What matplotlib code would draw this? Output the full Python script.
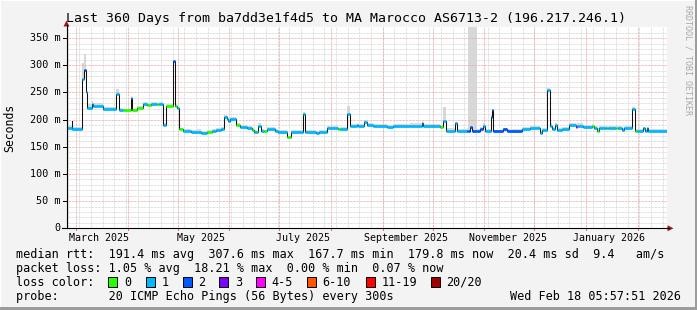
import datetime as dt
import numpy as np
import matplotlib
matplotlib.use("Agg")
import matplotlib.pyplot as plt
from matplotlib.patches import Rectangle, Polygon
from matplotlib.lines import Line2D

W, H = 697, 310

# median rtt as steps: start day (days since t0), ms, loss bucket, smoke above median (ms)
seg_day = [0.0, 3.1, 3.5, 9.1, 9.5, 10.3, 11.6, 12.2, 15.1, 16.1, 22.1, 29.7, 31.7, 33.8,
           38.5, 39.5, 42.4, 45.7, 48.5, 50.5, 54.0, 55.5, 58.1, 59.9, 63.6, 65.1, 66.5,
           67.7, 70.0, 74.5, 78.5, 80.5, 84.5, 87.5, 89.5, 92.5, 94.6, 96.0, 96.8, 97.8,
           101.8, 104.0, 108.0, 111.0, 112.5, 114.0, 115.0, 116.8, 118.5, 120.0, 125.0,
           127.0, 132.0, 134.4, 141.7, 143.0, 149.5, 151.5, 156.5, 163.0, 164.0, 168.5,
           170.0, 174.0, 175.0, 178.5, 180.0, 184.0, 192.0, 196.0, 206.0, 213.0, 214.0,
           224.0, 226.0, 227.5, 233.0, 234.3, 240.2, 240.8, 242.1, 243.1, 246.5, 248.2,
           249.8, 251.2, 254.7, 255.4, 256.1, 262.1, 264.1, 273.1, 278.0, 284.0, 285.0,
           288.5, 290.0, 291.2, 293.1, 294.0, 297.0, 301.6, 305.4, 306.3, 310.0, 315.0,
           316.3, 318.0, 319.3, 323.0, 324.0, 325.0, 329.6, 330.6, 333.2, 334.3, 339.0,
           341.2, 342.5, 346.0, 346.8, 348.0, 348.8]
seg_ms = [185, 198, 182.5, 198, 274, 291, 251, 222, 228.5, 225, 219, 248, 217.5, 217.5,
          239, 217, 222, 228.5, 227, 229, 228, 229, 190, 225, 307.6, 225, 220.6,
          182.5, 179, 177, 178, 176, 177, 179, 181, 183, 205, 202, 197.5, 201,
          190, 187, 184, 181, 178, 177, 189, 178.6, 178.6, 182, 179,
          176.4, 167.7, 177.5, 211, 177, 175.5, 177, 184, 182.5, 182.5, 211,
          188, 190, 188, 196, 190, 188, 186, 188, 189, 194, 188.5,
          187, 198, 180, 193, 179.4, 180, 180, 187, 179, 179, 182,
          189, 179, 205, 217.5, 178.5, 182, 179, 182, 185, 175.8, 181,
          255.5, 189, 182, 190, 181, 183, 189.8, 187, 189, 187, 188,
          185, 180, 184, 185, 185, 185, 185, 185, 181, 184, 220.5,
          179.4, 179.4, 184, 179.4, 184, 179.8]
seg_loss = [1, 1, 1, 2, 1, 2, 1, 1, 1, 1, 1, 1, 1, 0,
            1, 0, 0, 1, 0, 1, 0, 1, 1, 0, 2, 0, 1,
            0, 1, 1, 1, 1, 0, 1, 1, 1, 1, 1, 1, 1,
            0, 1, 1, 0, 1, 0, 1, 1, 0, 1, 1,
            1, 0, 1, 1, 1, 1, 1, 1, 0, 1, 1,
            1, 1, 1, 1, 1, 1, 1, 1, 1, 1, 1,
            0, 1, 1, 1, 1, 2, 2, 2, 2, 2, 2,
            1, 1, 2, 2, 2, 2, 2, 1, 1, 1, 1,
            1, 1, 1, 1, 1, 1, 1, 4, 1, 1, 0,
            1, 0, 1, 1, 0, 1, 0, 1, 1, 1, 1,
            0, 1, 1, 1, 1, 1]
seg_smoke = [4, 3, 4, 3, 30, 30, 8, 6, 6, 5, 4, 9, 4, 3,
             5, 3, 4, 4, 4, 4, 3, 4, 3, 3, 2, 3, 3,
             3, 4, 4, 4, 4, 4, 4, 3, 4, 4, 4, 4, 4,
             4, 4, 4, 3, 3, 3, 4, 4, 3, 4, 4,
             4, 3, 4, 3, 4, 4, 4, 4, 3, 4, 15,
             4, 4, 4, 4, 4, 4, 4, 4, 4, 3, 4,
             3, 26, 4, 3, 3, 4, 999, 999, 999, 4, 4,
             5, 4, 3, 3, 3, 3, 3, 4, 4, 3, 4,
             3, 4, 4, 4, 4, 4, 4, 4, 4, 4, 4,
             4, 4, 4, 4, 3, 4, 3, 4, 4, 4, 3,
             3, 3, 3, 3, 3, 3]
end_day = 360

loss_labels = ["0", "1", "2", "3", "4-5", "6-10", "11-19", "20/20"]
loss_colors = ["#26ff00", "#00b8ff", "#0059ff", "#7e00ff", "#ff00ff", "#ff5500", "#ff0000", "#a10000"]

yticks = [0, 50, 100, 150, 200, 250, 300, 350]
ytick_labels = ["0", "50 m", "100 m", "150 m", "200 m", "250 m", "300 m", "350 m"]

title = "Last 360 Days from ba7dd3e1f4d5 to MA Marocco AS6713-2 (196.217.246.1)"
stats_rtt = "median rtt:  191.4 ms avg  307.6 ms max  167.7 ms min  179.8 ms now  20.4 ms sd  9.4   am/s"
stats_loss = "packet loss: 1.05 % avg  18.21 % max  0.00 % min  0.07 % now"
probe = "probe:       20 ICMP Echo Pings (56 Bytes) every 300s"
stamp = "Wed Feb 18 05:57:51 2026"
t0 = dt.datetime(2025, 2, 23, 5, 57, 51)

MONO = "DejaVu Sans Mono"


def fx(x):
    return x / W


def fy(y):
    return 1 - y / H


def days(d):
    return (d - t0).total_seconds() / 86400.0


fig = plt.figure(figsize=(W / 100, H / 100), dpi=100, facecolor="#f3f3f3")

# 3d frame
fig.add_artist(Rectangle((0, fy(1)), 1, 1, transform=fig.transFigure, color="#ffffff", lw=0))
fig.add_artist(Rectangle((0, 0), fx(1), 1, transform=fig.transFigure, color="#ffffff", lw=0))
fig.add_artist(Rectangle((fx(694.5), 0), 1, 1, transform=fig.transFigure, color="#9c9c9c", lw=0))
fig.add_artist(Rectangle((0, 0), 1, fy(307), transform=fig.transFigure, color="#9c9c9c", lw=0))

ax = fig.add_axes([fx(66.5), fy(228.3), 600 / W, 201 / H])
ax.set_xlim(0, 360)
ax.set_ylim(0, 370)
ax.set_facecolor("white")
for s in ax.spines.values():
    s.set_visible(False)
ax.set_xticks([])
ax.set_yticks([])

edges = np.array(seg_day + [end_day])
med = np.array(seg_ms)
smoke = med + np.array(seg_smoke)

# smoke
ax.stairs(smoke, edges, baseline=med, fill=True, color="#d8d8d8", lw=0, zorder=2)

# grid
dot = (0, (0.72, 0.72))
for v in range(10, 370, 10):
    c = "#eaa4a4" if v % 50 == 0 else "#d4d4d4"
    ax.axhline(v, color=c, lw=0.72, linestyle=dot, zorder=2.5)
monday = t0.replace(hour=0, minute=0, second=0) + dt.timedelta(days=1)
d = monday
while days(d) < 360:
    ax.axvline(days(d), color="#d4d4d4", lw=0.72, linestyle=dot, zorder=2.5)
    d += dt.timedelta(days=7)
months = []
y_, m_ = 2025, 3
while True:
    d = dt.datetime(y_, m_, 1)
    if days(d) > 360:
        break
    months.append(d)
    m_ += 1
    if m_ > 12:
        m_, y_ = 1, y_ + 1
for d in months:
    ax.axvline(days(d), color="#eaa4a4", lw=0.72, linestyle=dot, zorder=2.6)

# median line and loss colour bands
ax.stairs(med, edges, baseline=None, color="#101010", lw=0.75, zorder=3)
cols = [loss_colors[i] for i in seg_loss]
ax.hlines(med, edges[:-1], edges[1:], colors=cols, lw=2.0, zorder=4, capstyle="butt")

# x labels, every second month, centred two weeks in
for d in months:
    if d.month % 2 == 1:
        ax.text(days(d) + 14, -17, d.strftime("%B %Y"), ha="center", va="center",
                fontsize=7.2, family=MONO, color="#000000", clip_on=False)
    ax.plot([days(d)] * 2, [0, -3.5], color="#e07070", lw=0.72, clip_on=False, zorder=5)

# y labels
for v, lab in zip(yticks, ytick_labels):
    y = v * 201 / 370
    fig.text(fx(60.5), fy(228.3 - y), lab, ha="right", va="center", fontsize=7.3, family=MONO)
    fig.add_artist(Line2D([fx(63), fx(66.5)], [fy(228.3 - y)] * 2, color="#000000", lw=0.72))

# axes with arrows
fig.add_artist(Line2D([fx(66.5), fx(66.5)], [fy(228.3), fy(25)], color="#000000", lw=0.8))
fig.add_artist(Line2D([fx(62), fx(669)], [fy(228.3), fy(228.3)], color="#000000", lw=0.8))
arrow_c = "#9a1a1a"
fig.add_artist(Polygon([[fx(63.5), fy(26.5)], [fx(69.5), fy(26.5)], [fx(66.5), fy(20.5)]],
                       closed=True, transform=fig.transFigure, color=arrow_c, lw=0))
fig.add_artist(Polygon([[fx(667.5), fy(225.3)], [fx(667.5), fy(231.3)], [fx(673.5), fy(228.3)]],
                       closed=True, transform=fig.transFigure, color=arrow_c, lw=0))

# texts
fig.text(fx(346.5), fy(18.5), title, ha="center", va="center", fontsize=9.5, family=MONO)
fig.text(fx(10), fy(127.5), "Seconds", ha="center", va="center", rotation=90,
         fontsize=8.3, family=MONO)
fig.text(fx(688), fy(5), "RRDTOOL / TOBI OETIKER", ha="center", va="top", rotation=270,
         fontsize=6.0, family=MONO, color="#a8a8a8")

fig.text(fx(16), fy(254.3), stats_rtt, ha="left", va="center", fontsize=8.45, family=MONO)
fig.text(fx(16), fy(268.3), stats_loss, ha="left", va="center", fontsize=8.45, family=MONO)
fig.text(fx(16), fy(282.3), "loss color:", ha="left", va="center", fontsize=8.45, family=MONO)
box_x = [108.3, 145.7, 182.7, 219.3, 256.0, 306.7, 365.7, 430.7]
for bx, lab, c in zip(box_x, loss_labels, loss_colors):
    fig.add_artist(Rectangle((fx(bx), fy(287)), 9 / W, 10 / H, transform=fig.transFigure,
                             facecolor=c, edgecolor="#000000", lw=0.7))
    fig.text(fx(bx + 15.5), fy(282.3), lab, ha="left", va="center", fontsize=8.45, family=MONO)
fig.text(fx(16), fy(296.3), probe, ha="left", va="center", fontsize=8.45, family=MONO)
fig.text(fx(680.5), fy(296.3), stamp, ha="right", va="center", fontsize=8.45, family=MONO)

fig.savefig("out.png", dpi=100, facecolor=fig.get_facecolor())
